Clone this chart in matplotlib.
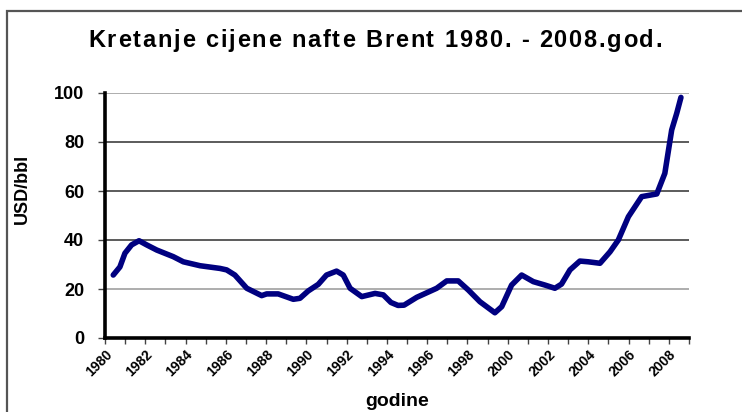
import matplotlib
matplotlib.use("Agg")
import matplotlib.pyplot as plt
from matplotlib.patches import Rectangle
from matplotlib.textpath import TextPath
from matplotlib.font_manager import FontProperties

plt.rcParams['font.family'] = ['Liberation Sans', 'DejaVu Sans']

years = [1980.41, 1980.74, 1980.99, 1981.32, 1981.69, 1982.07, 1982.57, 1983.39, 1983.89,
         1984.72, 1985.71, 1986.04, 1986.45, 1987.04, 1987.78, 1988.03, 1988.6, 1989.35,
         1989.68, 1990.09, 1990.59, 1991.0, 1991.5, 1991.83, 1992.17, 1992.75, 1993.41,
         1993.82, 1994.2, 1994.55, 1994.85, 1995.48, 1996.47, 1996.97, 1997.54, 1998.04,
         1998.62, 1999.36, 1999.7, 2000.19, 2000.69, 2001.27, 2001.85, 2002.34, 2002.67,
         2003.09, 2003.58, 2004.0, 2004.58, 2005.08, 2005.49, 2005.99, 2006.65, 2007.4,
         2007.8, 2008.14, 2008.39, 2008.6]
prices = [25.7, 29.0, 34.6, 38.0, 39.7, 38.0, 35.9, 33.2, 31.1,
          29.5, 28.4, 27.8, 25.7, 20.3, 17.3, 18.0, 18.0, 15.8,
          16.2, 19.2, 21.9, 25.7, 27.3, 25.7, 20.3, 16.9, 18.2,
          17.6, 14.5, 13.3, 13.4, 16.6, 20.3, 23.3, 23.3, 19.6,
          14.8, 10.3, 12.8, 21.6, 25.7, 23.0, 21.6, 20.3, 22.0,
          27.8, 31.4, 31.1, 30.5, 35.2, 40.0, 49.5, 57.7, 58.8,
          67.2, 84.9, 91.7, 98.2]

label_years = list(range(1980, 2009, 2))
y_ticks = [0, 20, 40, 60, 80, 100]
title = 'Kretanje cijene nafte Brent 1980. - 2008.god.'

W, H = 742, 412
fig = plt.figure(figsize=(W / 100, H / 100), dpi=100)

# chart area border
fig.patches.append(Rectangle((7 / W, -0.1), 1.2, (1 - 11 / H) + 0.1, transform=fig.transFigure,
                             fill=False, edgecolor='#555555', linewidth=1.6))

ax = fig.add_axes([105 / W, 1 - 338 / H, (689 - 105) / W, (338 - 93) / H])
ax.set_xlim(1980, 2009)
ax.set_ylim(0, 100)

grid_colors = {20: '#a0a0a0', 40: '#404040', 60: '#404040', 80: '#404040', 100: '#a0a0a0'}
for v, c in grid_colors.items():
    ax.axhline(v, color=c, linewidth=1.2, zorder=1)

ax.plot(years, prices, color='#000080', linewidth=4.0, solid_joinstyle='round',
        solid_capstyle='round', zorder=3, clip_on=False)

for s in ['top', 'right']:
    ax.spines[s].set_visible(False)
ax.spines['left'].set_linewidth(2.6)
ax.spines['bottom'].set_linewidth(2.6)

ax.set_yticks(y_ticks)
ax.set_yticklabels([str(v) for v in y_ticks], fontsize=13, fontweight='bold')
ax.set_xticks(list(range(1980, 2010)))
ax.set_xticklabels([str(y) if (y in label_years) else '' for y in range(1980, 2010)],
                   fontsize=10, fontweight='bold', rotation=45, ha='right', va='top',
                   rotation_mode='anchor')
ax.tick_params(axis='x', direction='out', length=4, width=1, color='#444444', pad=3)
ax.tick_params(axis='y', direction='out', length=5, width=1, color='#444444', pad=10)

fig.text(397 / W, 1 - 401 / H, 'godine', ha='center', va='center',
         fontsize=14, fontweight='bold')
fig.text(22 / W, 1 - 189 / H, 'USD/bbl', ha='center', va='center', rotation=90,
         fontsize=13, fontweight='bold')

# title with letter spacing (per-character layout)
fp = FontProperties(family='Liberation Sans', weight='bold', size=17)
px_per_pt = 100 / 72
widths = []
for ch in title:
    if ch == ' ':
        w = TextPath((0, 0), 'a a', prop=fp).get_extents().width - \
            TextPath((0, 0), 'aa', prop=fp).get_extents().width
    else:
        w = TextPath((0, 0), 'x' + ch + 'x', prop=fp).get_extents().width - \
            TextPath((0, 0), 'xx', prop=fp).get_extents().width
    widths.append(w * px_per_pt)
x_start, x_end = 88, 662
extra = ((x_end - x_start) - sum(widths)) / (len(title) - 1)
x = x_start
for ch, w in zip(title, widths):
    fig.text(x / W, 1 - 38 / H, ch, ha='left', va='center_baseline', fontproperties=fp)
    x += w + extra

fig.savefig('out.png', dpi=100)
